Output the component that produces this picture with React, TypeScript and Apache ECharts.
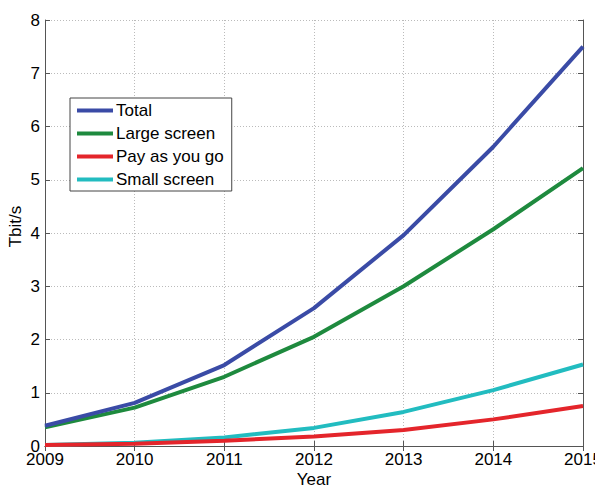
import React, { useEffect, useRef } from "react";
import * as echarts from "echarts";

const years = [2009, 2010, 2011, 2012, 2013, 2014, 2015];
const total = [0.38, 0.81, 1.52, 2.59, 3.96, 5.62, 7.5];
const largeScreen = [0.35, 0.72, 1.3, 2.05, 3.0, 4.07, 5.22];
const payAsYouGo = [0.02, 0.04, 0.1, 0.18, 0.3, 0.5, 0.75];
const smallScreen = [0.02, 0.06, 0.16, 0.34, 0.64, 1.05, 1.53];

const names = ["Total", "Large screen", "Pay as you go", "Small screen"];
const colors = ["#3a4ba6", "#1e8a3e", "#e4252b", "#22bcc0"];

const font = "Liberation Sans, Arial, sans-serif";

export default function App() {
  const ref = useRef<HTMLDivElement>(null);
  useEffect(() => {
    if (!ref.current) return;
    const chart = echarts.init(ref.current, undefined, { renderer: "svg" });
    const seriesData = [total, largeScreen, payAsYouGo, smallScreen];
    const axisLine = { show: true, lineStyle: { color: "#555", width: 1 } };
    const tick = { show: true, inside: true, length: 5, lineStyle: { color: "#555" } };
    chart.setOption({
      animation: false,
      backgroundColor: "#fff",
      textStyle: { fontFamily: font },
      grid: { left: 45, right: 12, top: 20, bottom: 40, containLabel: false, outerBoundsMode: "none" },
      legend: {
        orient: "vertical",
        left: 70,
        top: 98,
        data: names.map((n) => ({ name: n, icon: "rect" })),
        itemWidth: 36,
        itemHeight: 4,
        itemGap: 6,
        padding: [4, 8, 3, 7],
        borderColor: "#444",
        borderWidth: 1,
        backgroundColor: "#fff",
        textStyle: { fontSize: 17, color: "#000", fontFamily: font, padding: [0, 0, 0, -2] },
      },
      xAxis: [
        {
          type: "value",
          min: 2009,
          max: 2015,
          interval: 1,
          name: "Year",
          nameLocation: "middle",
          nameGap: 25,
          nameMoveOverlap: false,
          nameTextStyle: { fontSize: 17, color: "#000", fontFamily: font },
          axisLine,
          axisTick: tick,
          axisLabel: { fontSize: 17, color: "#000", margin: 5, formatter: (v: number) => String(v), fontFamily: font },
          splitLine: { show: true, lineStyle: { color: "#bbb", type: [1, 2], width: 1 } },
        },
        {
          type: "value",
          position: "top",
          min: 2009,
          max: 2015,
          interval: 1,
          axisLine,
          axisTick: tick,
          axisLabel: { show: false },
          splitLine: { show: false },
        },
      ],
      yAxis: [
        {
          type: "value",
          min: 0,
          max: 8,
          interval: 1,
          name: "Tbit/s",
          nameLocation: "middle",
          nameGap: 21,
          nameMoveOverlap: false,
          nameTextStyle: { fontSize: 17, color: "#000", fontFamily: font, padding: [0, 0, 0, 13] },
          axisLine,
          axisTick: tick,
          axisLabel: { fontSize: 17, color: "#000", margin: 5, fontFamily: font },
          splitLine: { show: true, lineStyle: { color: "#bbb", type: [1, 2], width: 1 } },
        },
        {
          type: "value",
          position: "right",
          min: 0,
          max: 8,
          interval: 1,
          axisLine,
          axisTick: tick,
          axisLabel: { show: false },
          splitLine: { show: false },
        },
      ],
      series: names.map((n, i) => ({
        name: n,
        type: "line",
        data: years.map((y, j) => [y, seriesData[i][j]]),
        showSymbol: false,
        symbol: "none",
        lineStyle: { width: 4, color: colors[i] },
        itemStyle: { color: colors[i] },
        z: 10 - i,
      })),
    });
    return () => chart.dispose();
  }, []);
  return <div ref={ref} style={{ width: 595, height: 486, position: "absolute", left: 0, top: 0 }} />;
}
